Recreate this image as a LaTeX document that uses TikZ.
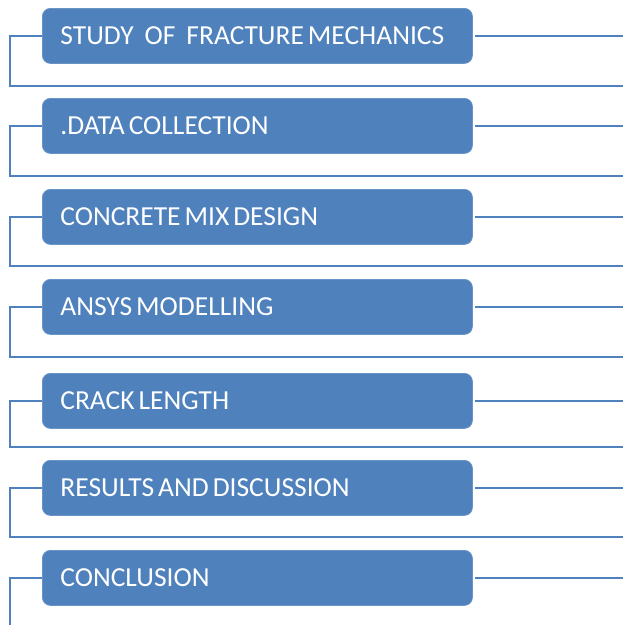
\documentclass[tikz,border=0pt]{standalone}
\usepackage{fontspec}
\setmainfont{Carlito}
\definecolor{stepblue}{HTML}{4F81BD}
\begin{document}
\begin{tikzpicture}[x=1pt,y=-1pt,
  stepbox/.style={draw=stepblue!85!white, line width=0.8pt, fill=stepblue,
    rounded corners=8pt, anchor=north west, minimum height=55pt,
    text width=394pt, inner xsep=18pt, inner ysep=0pt, align=left,
    text=white, font=\fontsize{27.5}{30}\selectfont,
    execute at begin node={\spaceskip=4pt\relax\xspaceskip=4pt\relax}},
  conn/.style={draw=stepblue, line width=2pt}]
\useasboundingbox[fill=white] (0,0) rectangle (623,625);

% the seven stages
\node[stepbox] (b1) at (42,8)   {STUDY\hspace{11pt}OF\hspace{11pt}FRACTURE MECHANICS};
\node[stepbox] (b2) at (42,98)  {.DATA COLLECTION};
\node[stepbox] (b3) at (42,189) {CONCRETE MIX DESIGN};
\node[stepbox] (b4) at (42,279) {ANSYS MODELLING};
\node[stepbox] (b5) at (42,373) {CRACK LENGTH};
\node[stepbox] (b6) at (42,460) {RESULTS AND DISCUSSION};
\node[stepbox] (b7) at (42,550) {CONCLUSION};

% left brackets and separator lines under each stage
\foreach \b/\ybot in {b1/86, b2/176, b3/266, b4/357, b5/447, b6/537}{
  \coordinate (\b-l) at (10,\ybot);
  \coordinate (\b-r) at (623,\ybot);
  \draw[conn] (\b.west) -| (\b-l) -- (\b-r);
}
\coordinate (b7-l) at (10,625);
\draw[conn] (b7.west) -| (b7-l);

% lines leaving each stage on the right
\foreach \b in {b1,b2,b3,b4,b5,b6,b7}{
  \coordinate (\b-e) at ([xshift=2pt]\b.east);
  \coordinate (\b-x) at (623,0 |- \b.east);
  \draw[conn] (\b-e) -- (\b-x);
}
\end{tikzpicture}
\end{document}
